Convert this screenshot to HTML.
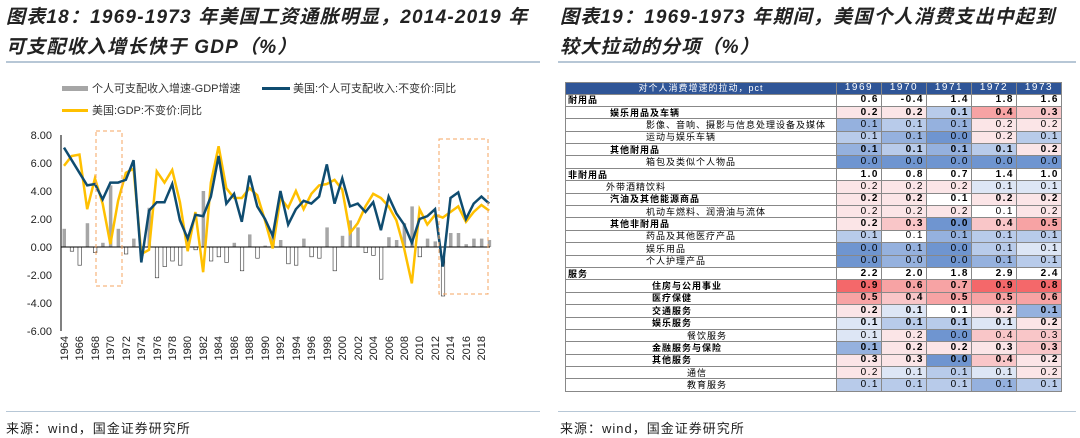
<!DOCTYPE html>
<html><head><meta charset="utf-8"><style>
body{margin:0;width:1080px;height:438px;background:#fff;position:relative;font-family:"Liberation Sans","Noto Sans CJK SC",sans-serif;overflow:hidden}
.t{position:absolute;font-style:italic;font-weight:bold;font-size:19px;letter-spacing:1.2px;color:#222;line-height:30px;font-family:"Liberation Sans","Noto Sans CJK SC",sans-serif}
.hr{position:absolute;height:2px;background:#b7c7d6}
.src{position:absolute;top:418px;font-size:13px;color:#222;letter-spacing:1px}
table{position:absolute;left:565px;top:82px;border-collapse:collapse;font-size:9px;font-family:"Liberation Sans","Noto Sans CJK SC",sans-serif}
td{height:11.4px;padding:0 2px;border:1px solid #888;line-height:10px;white-space:nowrap;letter-spacing:1px}
td.n{text-align:right;width:40px;font-family:"Liberation Sans",sans-serif;font-size:10px;letter-spacing:1.5px}
tr.h td{background:#2f5597;color:#fff;text-align:center;height:10.5px}
td.l{width:266px}
.bd td{font-weight:bold}
.b3{background:#6f95d0}.b2{background:#95b1de}.b1{background:#b8cbea}.b0{background:#dde6f5}
.r1{background:#fbe5e7}.r2{background:#f9c6c8}.r3{background:#f7a3a4}.r4{background:#f4686a}
.i1{padding-left:44px}.i2{padding-left:80px}.i3{padding-left:40px}.i4{padding-left:86px}.i5{padding-left:121px}
</style></head><body>
<div class="t" style="left:6px;top:3px">图表18：1969-1973 年美国工资通胀明显，2014-2019 年<br>可支配收入增长快于 GDP（%）</div>
<div class="t" style="left:560px;top:3px">图表19：1969-1973 年期间，美国个人消费支出中起到<br>较大拉动的分项（%）</div>
<div class="hr" style="left:6px;top:61px;width:534px"></div>
<div class="hr" style="left:558px;top:61px;width:518px"></div>
<div class="hr" style="left:6px;top:411px;width:534px;height:1px"></div>
<div class="hr" style="left:558px;top:411px;width:518px;height:1px"></div>
<div class="src" style="left:6px">来源：wind，国金证券研究所</div>
<div class="src" style="left:560px">来源：wind，国金证券研究所</div>

<svg width="545" height="380" style="position:absolute;left:0;top:0" font-family="Liberation Sans,Noto Sans CJK SC,sans-serif">
<rect x="62" y="86" width="26" height="5" fill="#a6a6a6"/>
<text x="92" y="92" font-size="11" fill="#333">个人可支配收入增速-GDP增速</text>
<rect x="262" y="87" width="28" height="3" fill="#0f4c70"/>
<text x="293" y="92" font-size="11" fill="#333">美国:个人可支配收入:不变价:同比</text>
<rect x="62" y="109" width="26" height="3" fill="#ffc000"/>
<text x="92" y="114" font-size="11" fill="#333">美国:GDP:不变价:同比</text>
<g font-size="11" fill="#222" text-anchor="end">
<text x="52" y="139">8.00</text><text x="52" y="167">6.00</text><text x="52" y="195">4.00</text><text x="52" y="223">2.00</text><text x="52" y="251">0.00</text><text x="52" y="279">-2.00</text><text x="52" y="307">-4.00</text><text x="52" y="335">-6.00</text>
</g>
<line x1="61" y1="135" x2="61" y2="331" stroke="#000"/>
<g id="bars"></g>
<line x1="61" y1="247" x2="490" y2="247" stroke="#000"/>
<polyline id="gdp" fill="none" stroke="#ffc000" stroke-width="2.5"/>
<polyline id="di" fill="none" stroke="#0f4c70" stroke-width="2.5"/>
<rect x="96" y="131" width="26" height="155" fill="none" stroke="#f4a460" stroke-dasharray="4,3"/>
<rect x="439" y="139" width="49" height="155" fill="none" stroke="#f4a460" stroke-dasharray="4,3"/>
<g font-size="11" fill="#222" text-anchor="end">
<text transform="translate(68,336) rotate(-90)">1964</text><text transform="translate(83,336) rotate(-90)">1966</text><text transform="translate(99,336) rotate(-90)">1968</text><text transform="translate(114,336) rotate(-90)">1970</text><text transform="translate(130,336) rotate(-90)">1972</text><text transform="translate(145,336) rotate(-90)">1974</text><text transform="translate(161,336) rotate(-90)">1976</text><text transform="translate(176,336) rotate(-90)">1978</text><text transform="translate(191,336) rotate(-90)">1980</text><text transform="translate(207,336) rotate(-90)">1982</text><text transform="translate(222,336) rotate(-90)">1984</text><text transform="translate(238,336) rotate(-90)">1986</text><text transform="translate(253,336) rotate(-90)">1988</text><text transform="translate(269,336) rotate(-90)">1990</text><text transform="translate(284,336) rotate(-90)">1992</text><text transform="translate(300,336) rotate(-90)">1994</text><text transform="translate(315,336) rotate(-90)">1996</text><text transform="translate(331,336) rotate(-90)">1998</text><text transform="translate(346,336) rotate(-90)">2000</text><text transform="translate(362,336) rotate(-90)">2002</text><text transform="translate(377,336) rotate(-90)">2004</text><text transform="translate(393,336) rotate(-90)">2006</text><text transform="translate(408,336) rotate(-90)">2008</text><text transform="translate(423,336) rotate(-90)">2010</text><text transform="translate(439,336) rotate(-90)">2012</text><text transform="translate(454,336) rotate(-90)">2014</text><text transform="translate(470,336) rotate(-90)">2016</text><text transform="translate(485,336) rotate(-90)">2018</text>
</g>
</svg>
<script>
var di=[7.1,6.2,5.3,4.4,4.5,3.4,4.6,4.6,4.8,6.2,-1.1,2.6,3.2,3.2,4.5,1.9,0.6,2.3,2.2,3.6,6.5,3.1,3.8,1.8,5.1,2.9,2.0,0.8,4.0,1.6,2.7,3.3,3.1,3.6,5.9,3.1,4.9,2.9,3.1,2.5,3.2,1.2,3.6,2.4,1.6,0.3,2.0,2.2,2.7,-1.4,3.5,3.9,2.0,3.1,3.6,3.1];
var g=[5.8,6.5,6.6,2.7,4.9,3.1,0.2,3.3,5.3,5.6,-0.5,-0.2,5.4,4.6,5.5,3.2,-0.3,2.5,-1.8,4.6,7.2,4.2,3.5,3.5,4.2,3.7,1.9,-0.1,3.5,2.8,4.0,2.7,3.8,4.4,4.5,4.8,4.1,1.0,1.7,2.9,3.8,3.5,2.9,1.9,-0.1,-2.6,2.7,1.6,2.3,2.1,2.5,2.9,1.8,2.5,3.0,2.6];
function X(i){return 64+7.73*i}function Y(v){return 247-14*v}
var p1=[],p2=[],b='';
for(var i=0;i<56;i++){p1.push(X(i)+','+Y(di[i]));p2.push(X(i)+','+Y(g[i]));var d=di[i]-g[i];
if(d>=0)b+='<rect x="'+(X(i)-1.5)+'" y="'+Y(d)+'" width="3.5" height="'+(14*d)+'" fill="#a6a6a6"/>';
else b+='<rect x="'+(X(i)-1.5)+'" y="247" width="3.5" height="'+(-14*d)+'" fill="#fff" stroke="#333" stroke-width="0.6"/>';}
document.getElementById('di').setAttribute('points',p1.join(' '));
document.getElementById('gdp').setAttribute('points',p2.join(' '));
document.getElementById('bars').innerHTML=b;
</script>

<table>
<tr class="h"><td class="l">对个人消费增速的拉动，pct</td><td class="n" style="text-align:center">1969</td><td class="n" style="text-align:center">1970</td><td class="n" style="text-align:center">1971</td><td class="n" style="text-align:center">1972</td><td class="n" style="text-align:center">1973</td></tr>
<tr class="bd"><td>耐用品</td><td class="n">0.6</td><td class="n">-0.4</td><td class="n">1.4</td><td class="n">1.8</td><td class="n">1.6</td></tr>
<tr class="bd"><td class="i1">娱乐用品及车辆</td><td class="n r1">0.2</td><td class="n r1">0.2</td><td class="n b1">0.1</td><td class="n r3">0.4</td><td class="n r2">0.3</td></tr>
<tr><td class="i2">影像、音响、摄影与信息处理设备及媒体</td><td class="n b2">0.1</td><td class="n b1">0.1</td><td class="n b2">0.1</td><td class="n r1">0.2</td><td class="n r1">0.2</td></tr>
<tr><td class="i2">运动与娱乐车辆</td><td class="n b1">0.1</td><td class="n b2">0.1</td><td class="n b3">0.0</td><td class="n r1">0.2</td><td class="n b1">0.1</td></tr>
<tr class="bd"><td class="i1">其他耐用品</td><td class="n b2">0.1</td><td class="n b1">0.1</td><td class="n b2">0.1</td><td class="n b1">0.1</td><td class="n r1">0.2</td></tr>
<tr><td class="i2">箱包及类似个人物品</td><td class="n b3">0.0</td><td class="n b3">0.0</td><td class="n b3">0.0</td><td class="n b3">0.0</td><td class="n b3">0.0</td></tr>
<tr class="bd"><td>非耐用品</td><td class="n">1.0</td><td class="n">0.8</td><td class="n">0.7</td><td class="n">1.4</td><td class="n">1.0</td></tr>
<tr><td class="i3">外带酒精饮料</td><td class="n r1">0.2</td><td class="n r1">0.2</td><td class="n r1">0.2</td><td class="n b0">0.1</td><td class="n b0">0.1</td></tr>
<tr class="bd"><td class="i1">汽油及其他能源商品</td><td class="n r1">0.2</td><td class="n r1">0.2</td><td class="n">0.1</td><td class="n r1">0.2</td><td class="n r1">0.2</td></tr>
<tr><td class="i2">机动车燃料、润滑油与流体</td><td class="n r1">0.2</td><td class="n r1">0.2</td><td class="n r1">0.2</td><td class="n">0.1</td><td class="n r1">0.2</td></tr>
<tr class="bd"><td class="i1">其他非耐用品</td><td class="n r1">0.2</td><td class="n r2">0.3</td><td class="n b3">0.0</td><td class="n r2">0.4</td><td class="n r3">0.5</td></tr>
<tr><td class="i2">药品及其他医疗产品</td><td class="n b1">0.1</td><td class="n">0.1</td><td class="n b2">0.1</td><td class="n b1">0.1</td><td class="n b1">0.1</td></tr>
<tr><td class="i2">娱乐用品</td><td class="n b3">0.0</td><td class="n b2">0.1</td><td class="n b3">0.0</td><td class="n b1">0.1</td><td class="n b0">0.1</td></tr>
<tr><td class="i2">个人护理产品</td><td class="n b3">0.0</td><td class="n b2">0.0</td><td class="n b3">0.0</td><td class="n b2">0.1</td><td class="n b1">0.1</td></tr>
<tr class="bd"><td>服务</td><td class="n">2.2</td><td class="n">2.0</td><td class="n">1.8</td><td class="n">2.9</td><td class="n">2.4</td></tr>
<tr class="bd"><td class="i4">住房与公用事业</td><td class="n r4">0.9</td><td class="n r3">0.6</td><td class="n r3">0.7</td><td class="n r4">0.9</td><td class="n r4">0.8</td></tr>
<tr class="bd"><td class="i4">医疗保健</td><td class="n r3">0.5</td><td class="n r2">0.4</td><td class="n r3">0.5</td><td class="n r3">0.5</td><td class="n r3">0.6</td></tr>
<tr class="bd"><td class="i4">交通服务</td><td class="n r1">0.2</td><td class="n b0">0.1</td><td class="n">0.1</td><td class="n r1">0.2</td><td class="n b2">0.1</td></tr>
<tr class="bd"><td class="i4">娱乐服务</td><td class="n b0">0.1</td><td class="n b1">0.1</td><td class="n b1">0.1</td><td class="n b0">0.1</td><td class="n r1">0.2</td></tr>
<tr><td class="i5">餐饮服务</td><td class="n b0">0.1</td><td class="n r1">0.2</td><td class="n b3">0.0</td><td class="n r2">0.4</td><td class="n r2">0.3</td></tr>
<tr class="bd"><td class="i4">金融服务与保险</td><td class="n b2">0.1</td><td class="n r1">0.2</td><td class="n r1">0.2</td><td class="n r1">0.3</td><td class="n r2">0.3</td></tr>
<tr class="bd"><td class="i4">其他服务</td><td class="n r1">0.3</td><td class="n r1">0.3</td><td class="n b3">0.0</td><td class="n r2">0.4</td><td class="n r1">0.2</td></tr>
<tr><td class="i5">通信</td><td class="n r1">0.2</td><td class="n b0">0.1</td><td class="n b1">0.1</td><td class="n b0">0.1</td><td class="n r1">0.2</td></tr>
<tr><td class="i5">教育服务</td><td class="n b1">0.1</td><td class="n b1">0.1</td><td class="n b1">0.1</td><td class="n b2">0.1</td><td class="n b1">0.1</td></tr>
</table>
</body></html>
